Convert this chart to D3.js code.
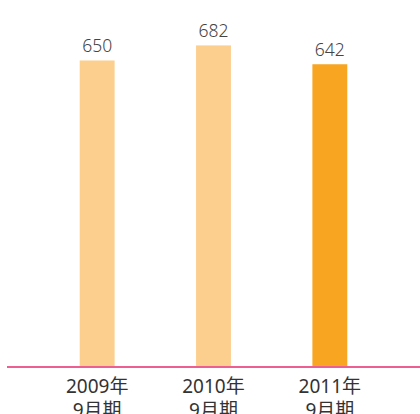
<!DOCTYPE html>
<html>
<head>
<meta charset="utf-8">
<script src="https://cdn.jsdelivr.net/npm/d3@7"></script>
<style>
  html, body { margin: 0; padding: 0; background: #fff; }
  svg { display: block; font-family: "Noto Sans", "Noto Sans CJK JP", sans-serif; }
</style>
</head>
<body>
<div id="chart"></div>
<script>
const years = ["2009年", "2010年", "2011年"];
const periods = ["9月期", "9月期", "9月期"];
const values = [650, 682, 642];
const colours = ["#fccf8f", "#fccf8f", "#f8a622"];

const width = 420;
const height = 414;
const baseY = 366.5;

const svg = d3.select("#chart").append("svg")
  .attr("width", width)
  .attr("height", height)
  .attr("viewBox", [0, 0, width, height]);

const x = d3.scaleBand()
  .domain(d3.range(values.length))
  .range([39, 388])
  .paddingInner(0.7)
  .paddingOuter(0.35);

const y = d3.scaleLinear()
  .domain([0, 700])
  .range([baseY, baseY - 700 * 0.4708]);

// bars
svg.selectAll("rect.bar")
  .data(values)
  .join("rect")
  .attr("class", "bar")
  .attr("x", (d, i) => x(i))
  .attr("y", d => y(d))
  .attr("width", x.bandwidth())
  .attr("height", d => y(0) - y(d))
  .attr("fill", (d, i) => colours[i]);

// value labels
svg.selectAll("text.value")
  .data(values)
  .join("text")
  .attr("class", "value")
  .attr("x", (d, i) => x(i) + x.bandwidth() / 2)
  .attr("y", d => y(d) - 8)
  .attr("text-anchor", "middle")
  .attr("font-size", 17.5)
  .attr("font-weight", 300)
  .attr("fill", "#444")
  .text(d => d);

// baseline
svg.append("line")
  .attr("x1", 7)
  .attr("x2", width)
  .attr("y1", baseY + 0.5)
  .attr("y2", baseY + 0.5)
  .attr("stroke", "#ee5f91")
  .attr("stroke-width", 2);

// category labels
const lab = svg.selectAll("text.cat")
  .data(years)
  .join("text")
  .attr("class", "cat")
  .attr("text-anchor", "middle")
  .attr("font-size", 19)
  .attr("fill", "#333");

lab.append("tspan")
  .attr("x", (d, i) => x(i) + x.bandwidth() / 2)
  .attr("y", 393)
  .text(d => d);

lab.append("tspan")
  .attr("x", (d, i) => x(i) + x.bandwidth() / 2)
  .attr("y", 417)
  .text((d, i) => periods[i]);
</script>
</body>
</html>
